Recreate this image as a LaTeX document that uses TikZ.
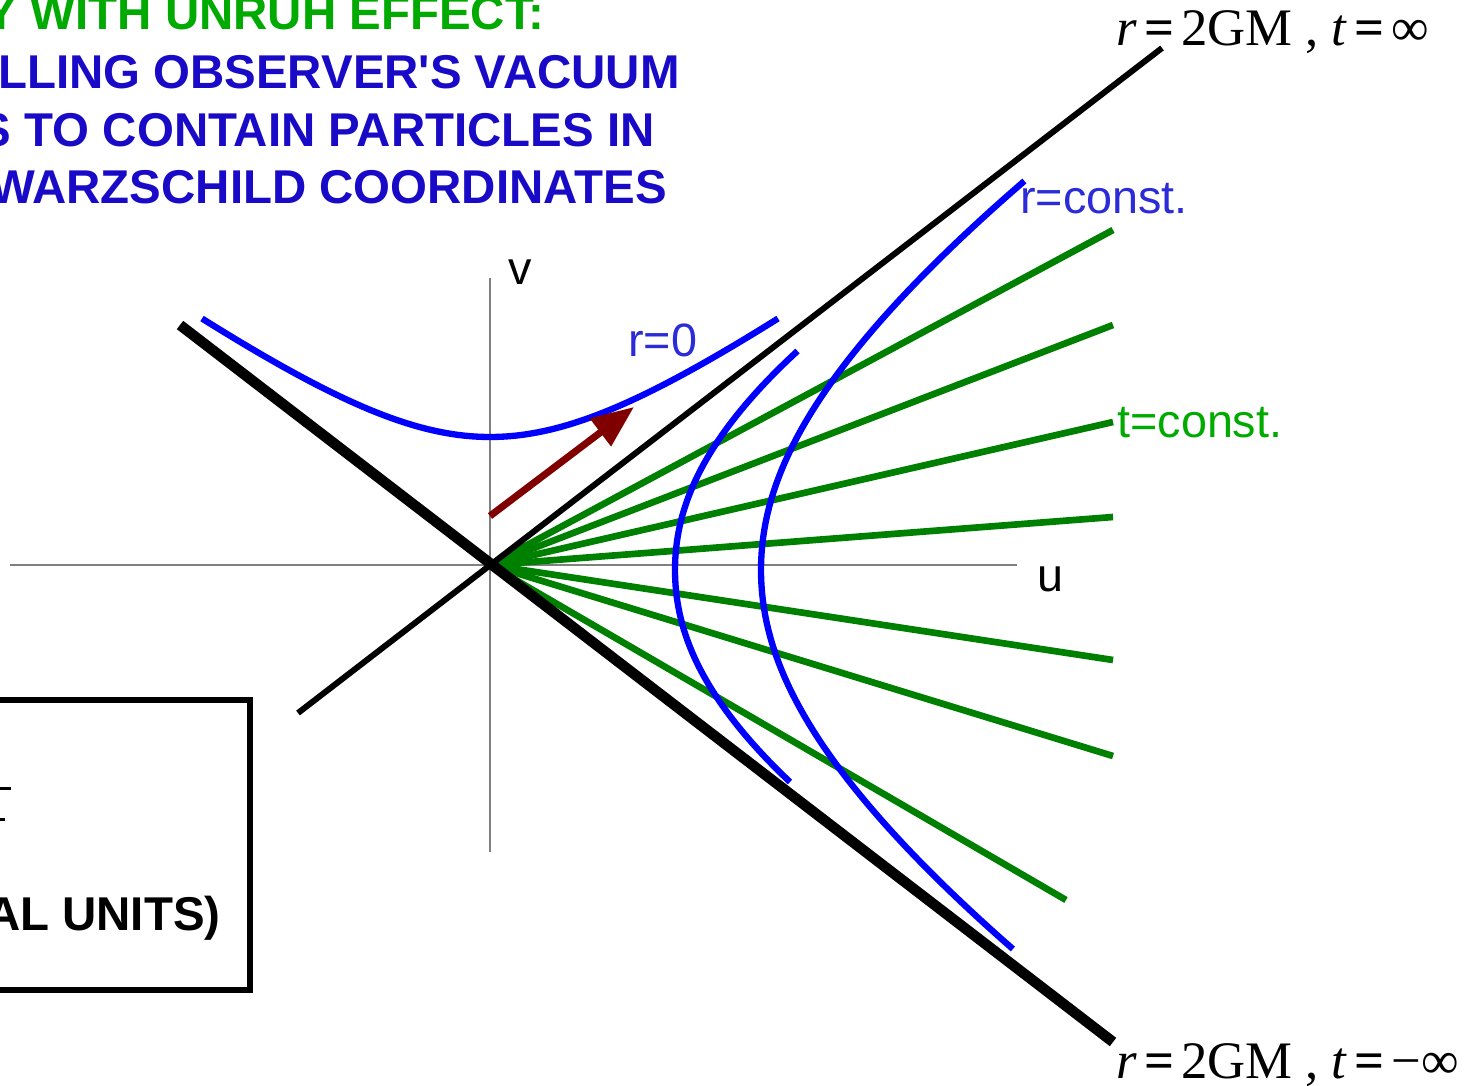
\documentclass[tikz,border=0pt]{standalone}
\usepackage{fontspec}
\setmainfont{Liberation Serif}
\newfontfamily\arialfont{Liberation Sans}
\usetikzlibrary{arrows.meta}
\definecolor{darkred}{RGB}{128,0,0}
\definecolor{curveblue}{RGB}{0,0,255}
\definecolor{labelblue}{RGB}{43,43,215}
\definecolor{titlegreen}{RGB}{0,170,0}
\definecolor{titleblue}{RGB}{25,10,200}
\definecolor{linegreen}{RGB}{0,128,0}
\newcommand{\eqs}{\kern4pt\textbf{=}\kern4pt}

\begin{document}
\begin{tikzpicture}[
        x=0.02cm, y=-0.02cm, % pixel grid, y runs down
        axis/.style={gray, line width=0.8pt},
        horizon/.style={black, line width=3.4pt},
        horizonthick/.style={black, line width=6pt},
        rcurve/.style={curveblue, line width=3.6pt},
        tline/.style={linegreen, line width=3.8pt},
        lbl/.style={font=\arialfont\fontsize{26.6}{30}\selectfont, inner sep=0pt},
        titleline/.style={font=\arialfont\bfseries\fontsize{27}{30}\selectfont, inner sep=0pt, anchor=base east},
        serif/.style={font=\fontsize{30}{34}\selectfont, inner sep=0pt, anchor=base west},
        arrow/.style={darkred, line width=4pt, -{Triangle[length=24pt, width=19pt]}}
    ]
    \clip (0,0) rectangle (1479,1085);

    % --- Coordinates ---
    \coordinate (O) at (490,565);
    \coordinate (uL) at (10,565);   \coordinate (uR) at (1017,565);
    \coordinate (vB) at (490,852);  \coordinate (vT) at (490,278);
    \coordinate (hA) at (298,713);  \coordinate (hB) at (1162,48);
    \coordinate (kA) at (180,325);  \coordinate (kB) at (1113,1042);
    \coordinate (obs) at (490,516); \coordinate (obsT) at (634,407);

    % --- Nodes ---
    \node[titleline, text=titlegreen] (ttl1) at (545,30) {Y WITH UNRUH EFFECT:};
    \node[titleline, text=titleblue] (ttl2) at (680,88) {LLING OBSERVER'S VACUUM};
    \node[titleline, text=titleblue] (ttl3) at (655,146) {S TO CONTAIN PARTICLES IN};
    \node[titleline, text=titleblue] (ttl4) at (667,203) {WARZSCHILD COORDINATES};

    \node[lbl, anchor=base] (vlab) at (520,284) {v};
    \node[lbl, anchor=base] (ulab) at (1050,591) {u};
    \node[lbl, anchor=base west, text=labelblue] (rzero) at (628,356) {r=0};
    \node[lbl, anchor=base west, text=labelblue] (rconst) at (1020,213) {r=const.};
    \node[lbl, anchor=base west, text=titlegreen] (tconst) at (1117,437) {t=const.};

    \node[serif] (futh) at (1116,45) {\textit{r}\eqs2GM , \textit{t}\eqs∞};
    \node[serif] (pasth) at (1116,1078) {\textit{r}\eqs2GM , \textit{t}\eqs−∞};

    % box, mostly cut off on the left
    \draw[line width=3.8pt] (-20,700) rectangle (250,990);
    \draw[line width=1.7pt] (0,788) -- (11,788);
    \draw[line width=1.7pt] (0,819) -- (5,819);
    \node[titleline, text=black] (units) at (221,930) {AL UNITS)};

    % --- Edges ---
    \draw[axis] (uL) -- (uR);
    \draw[axis] (vB) -- (vT);

    % t=const. lines fanning out of the origin
    \foreach \ex/\ey in {1113/230, 1113/325, 1113/422, 1113/517, 1113/660, 1113/756, 1066/900}
        \draw[tline] (O) -- (\ex,\ey);

    % r=0 and r=const. curves
    \draw[rcurve] plot[domain=-288:288, samples=80] ({490+\x}, {565-128*sqrt(1+(\x/175)^2)});
    \draw[rcurve] plot[domain=-219:212, samples=80]
        ({490+185*sqrt(1+(\x/(200-0.16*abs(\x)))^2)}, {570+\x});
    \draw[rcurve] plot[domain=-389:379, samples=100]
        ({490+271*sqrt(1+(\x/(260-0.08*abs(\x)))^2)}, {570+\x});

    % horizons
    \draw[horizon] (hA) -- (hB);
    \draw[horizonthick] (kA) -- (kB);

    % observer
    \draw[arrow] (obs) -- (obsT);

\end{tikzpicture}
\end{document}
